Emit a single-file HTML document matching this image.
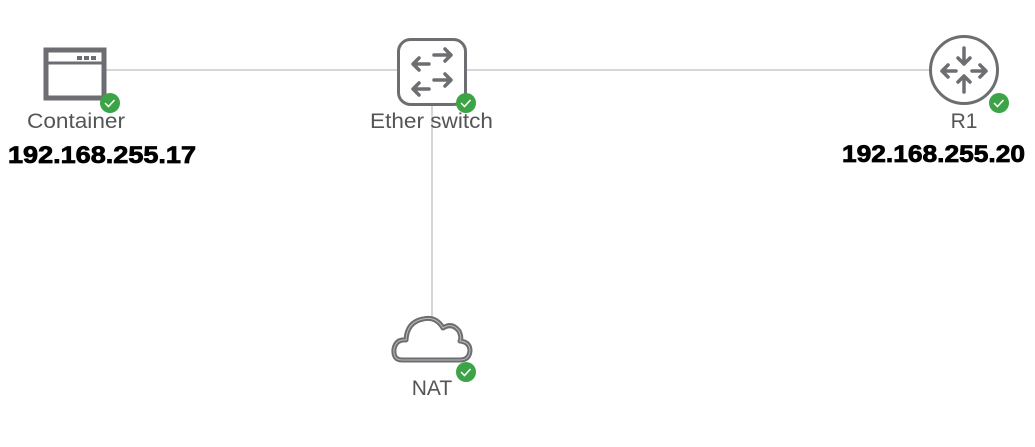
<!DOCTYPE html>
<html><head><style>
body{margin:0;background:#fff;}
svg{display:block;}
</style></head><body>
<svg width="1035" height="447" xmlns="http://www.w3.org/2000/svg" font-family="Liberation Sans, sans-serif">
<line x1="106" y1="70" x2="932" y2="70" stroke="#c8c8c8" stroke-width="1.5"/>
<line x1="432" y1="105" x2="432" y2="322" stroke="#c8c8c8" stroke-width="1.5"/>
<!-- Container -->
<rect x="46" y="50" width="58" height="48" fill="#fff" stroke="#6d6e71" stroke-width="5"/>
<line x1="46" y1="63" x2="104" y2="63" stroke="#6d6e71" stroke-width="3"/>
<rect x="77" y="56" width="5" height="4" fill="#6d6e71"/>
<rect x="84" y="56" width="5" height="4" fill="#6d6e71"/>
<rect x="91" y="56" width="5" height="4" fill="#6d6e71"/>
<text x="27" y="128" font-size="21" fill="#555" textLength="98" lengthAdjust="spacingAndGlyphs">Container</text>
<text x="8" y="163" font-size="24" font-weight="bold" fill="#000" stroke="#000" stroke-width="0.8" textLength="188" lengthAdjust="spacingAndGlyphs">192.168.255.17</text>
<!-- Switch -->
<rect x="398.5" y="39.5" width="67" height="65" rx="12" fill="#fff" stroke="#6d6e71" stroke-width="3"/>
<g stroke="#6d6e71" stroke-width="3.5" fill="none" stroke-linecap="round" stroke-linejoin="round">
<path d="M413 64h16M419 58l-6 6 6 6"/><path d="M434 55h17M445 49l6 6-6 6"/>
<path d="M413 89h16M419 83l-6 6 6 6"/><path d="M434 80h17M445 74l6 6-6 6"/>
</g>
<text x="370" y="128" font-size="21" fill="#555" textLength="123" lengthAdjust="spacingAndGlyphs">Ether switch</text>
<!-- Router -->
<circle cx="964" cy="70" r="33.5" fill="#fff" stroke="#6d6e71" stroke-width="3"/>
<g stroke="#6d6e71" stroke-width="3.5" fill="none" stroke-linecap="round" stroke-linejoin="round">
<path d="M964 48v16M958 58l6 6 6-6"/><path d="M964 92v-16M958 82l6-6 6 6"/>
<path d="M942 71h14M948 65l-6 6 6 6"/><path d="M986 71h-14M980 65l6 6-6 6"/>
</g>
<text x="964" y="128" font-size="21" fill="#555" text-anchor="middle">R1</text>
<text x="842" y="162" font-size="24" font-weight="bold" fill="#000" stroke="#000" stroke-width="0.8" textLength="183" lengthAdjust="spacingAndGlyphs">192.168.255.20</text>
<!-- Cloud -->
<path d="M402 360 Q393 360 394 349 Q396 339 406 340 Q407 322 423 319 Q436 316 443 328 Q452 322 459 331 Q462 338 460 341 Q470 342 470 351 Q469 360 460 360 Z" fill="#fff" stroke="#6d6e71" stroke-width="5" stroke-linejoin="round"/>
<path d="M402 360 Q393 360 394 349 Q396 339 406 340 Q407 322 423 319 Q436 316 443 328 Q452 322 459 331 Q462 338 460 341 Q470 342 470 351 Q469 360 460 360 Z" fill="none" stroke="#bbb" stroke-width="1"/>
<text x="432" y="395" font-size="21" fill="#555" text-anchor="middle">NAT</text>
<!-- checks -->
<g>
<circle cx="110" cy="103" r="10" fill="#3ca446"/><path d="M105 103l3.5 3.5 6-6.5" stroke="#fff" stroke-width="1.5" fill="none"/>
<circle cx="466" cy="103" r="10" fill="#3ca446"/><path d="M461 103l3.5 3.5 6-6.5" stroke="#fff" stroke-width="1.5" fill="none"/>
<circle cx="999" cy="103" r="10" fill="#3ca446"/><path d="M994 103l3.5 3.5 6-6.5" stroke="#fff" stroke-width="1.5" fill="none"/>
<circle cx="466" cy="372" r="10" fill="#3ca446"/><path d="M461 372l3.5 3.5 6-6.5" stroke="#fff" stroke-width="1.5" fill="none"/>
</g>
</svg>
</body></html>
